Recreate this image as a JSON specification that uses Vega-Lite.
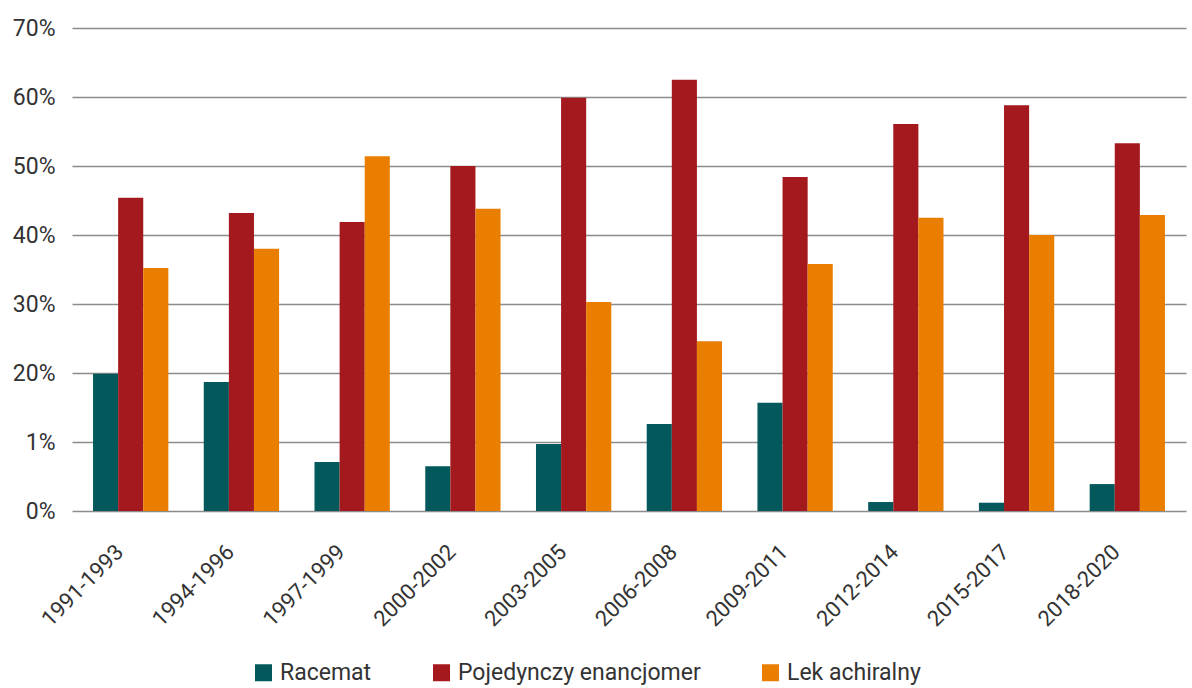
{
  "$schema": "https://vega.github.io/schema/vega-lite/v6.json",
  "autosize": "none",
  "width": 1114,
  "height": 483,
  "padding": {"left": 72, "top": 28, "right": 6, "bottom": 177},
  "background": "white",
  "config": {
    "font": "Roboto",
    "view": {"stroke": null}
  },
  "data": {
    "values": [
      {"okres": "1991-1993", "typ": "Racemat", "udzial": 19.9},
      {"okres": "1991-1993", "typ": "Pojedynczy enancjomer", "udzial": 45.4},
      {"okres": "1991-1993", "typ": "Lek achiralny", "udzial": 35.2},
      {"okres": "1994-1996", "typ": "Racemat", "udzial": 18.7},
      {"okres": "1994-1996", "typ": "Pojedynczy enancjomer", "udzial": 43.2},
      {"okres": "1994-1996", "typ": "Lek achiralny", "udzial": 38.0},
      {"okres": "1997-1999", "typ": "Racemat", "udzial": 7.1},
      {"okres": "1997-1999", "typ": "Pojedynczy enancjomer", "udzial": 41.9},
      {"okres": "1997-1999", "typ": "Lek achiralny", "udzial": 51.4},
      {"okres": "2000-2002", "typ": "Racemat", "udzial": 6.5},
      {"okres": "2000-2002", "typ": "Pojedynczy enancjomer", "udzial": 50.0},
      {"okres": "2000-2002", "typ": "Lek achiralny", "udzial": 43.8},
      {"okres": "2003-2005", "typ": "Racemat", "udzial": 9.7},
      {"okres": "2003-2005", "typ": "Pojedynczy enancjomer", "udzial": 59.9},
      {"okres": "2003-2005", "typ": "Lek achiralny", "udzial": 30.3},
      {"okres": "2006-2008", "typ": "Racemat", "udzial": 12.6},
      {"okres": "2006-2008", "typ": "Pojedynczy enancjomer", "udzial": 62.5},
      {"okres": "2006-2008", "typ": "Lek achiralny", "udzial": 24.6},
      {"okres": "2009-2011", "typ": "Racemat", "udzial": 15.7},
      {"okres": "2009-2011", "typ": "Pojedynczy enancjomer", "udzial": 48.4},
      {"okres": "2009-2011", "typ": "Lek achiralny", "udzial": 35.8},
      {"okres": "2012-2014", "typ": "Racemat", "udzial": 1.3},
      {"okres": "2012-2014", "typ": "Pojedynczy enancjomer", "udzial": 56.1},
      {"okres": "2012-2014", "typ": "Lek achiralny", "udzial": 42.5},
      {"okres": "2015-2017", "typ": "Racemat", "udzial": 1.2},
      {"okres": "2015-2017", "typ": "Pojedynczy enancjomer", "udzial": 58.8},
      {"okres": "2015-2017", "typ": "Lek achiralny", "udzial": 40.0},
      {"okres": "2018-2020", "typ": "Racemat", "udzial": 3.9},
      {"okres": "2018-2020", "typ": "Pojedynczy enancjomer", "udzial": 53.3},
      {"okres": "2018-2020", "typ": "Lek achiralny", "udzial": 42.9}
    ]
  },
  "mark": {"type": "bar"},
  "encoding": {
    "x": {
      "field": "okres",
      "type": "nominal",
      "sort": null,
      "scale": {"paddingInner": 0.32, "paddingOuter": 0.19},
      "axis": {
        "title": null,
        "labelAngle": -45,
        "labelFontSize": 22,
        "labelColor": "#333333",
        "labelPadding": 30,
        "labelOffset": -18,
        "labelLimit": 0,
        "ticks": false,
        "domain": false,
        "grid": false
      }
    },
    "xOffset": {
      "field": "typ",
      "type": "nominal",
      "sort": ["Racemat", "Pojedynczy enancjomer", "Lek achiralny"],
      "scale": {"paddingInner": 0, "paddingOuter": 0}
    },
    "y": {
      "field": "udzial",
      "type": "quantitative",
      "scale": {"domain": [0, 70], "nice": false},
      "axis": {
        "title": null,
        "values": [0, 10, 20, 30, 40, 50, 60, 70],
        "labelExpr": "datum.value == 10 ? '1%' : datum.value + '%'",
        "labelFontSize": 23,
        "labelColor": "#333333",
        "labelPadding": 17,
        "ticks": false,
        "domain": false,
        "grid": true,
        "gridColor": "#8c8c8c",
        "gridWidth": 1.5
      }
    },
    "color": {
      "field": "typ",
      "type": "nominal",
      "sort": ["Racemat", "Pojedynczy enancjomer", "Lek achiralny"],
      "scale": {
        "domain": ["Racemat", "Pojedynczy enancjomer", "Lek achiralny"],
        "range": ["#02585a", "#a4191e", "#e97e00"]
      },
      "legend": {
        "title": null,
        "orient": "none",
        "direction": "horizontal",
        "legendX": 180,
        "legendY": 633,
        "symbolType": "square",
        "symbolSize": 289,
        "symbolStrokeWidth": 0,
        "labelFontSize": 23,
        "labelColor": "#333333",
        "labelOffset": 5,
        "labelLimit": 0,
        "columnPadding": 58
      }
    }
  }
}
